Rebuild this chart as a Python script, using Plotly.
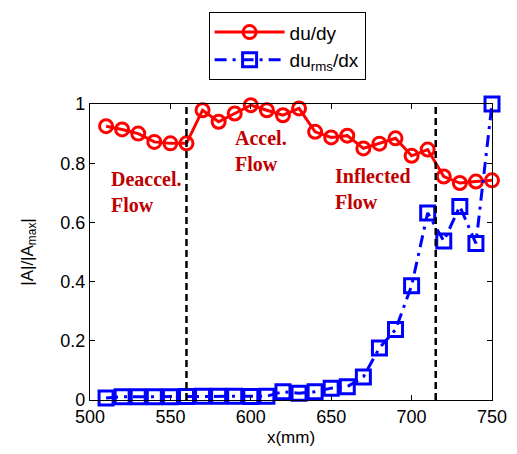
import plotly.graph_objects as go

x_vals = [510, 520, 530, 540, 550, 560, 570, 580, 590, 600, 610, 620, 630,
          640, 650, 660, 670, 680, 690, 700, 710, 720, 730, 740, 750]
dudy = [0.925, 0.914, 0.900, 0.872, 0.867, 0.867, 0.979, 0.940, 0.968, 0.996,
        0.979, 0.962, 0.985, 0.906, 0.887, 0.893, 0.850, 0.866, 0.884, 0.825,
        0.846, 0.755, 0.733, 0.738, 0.742]
durms_dx = [0.007, 0.011, 0.011, 0.011, 0.011, 0.012, 0.013, 0.013, 0.013, 0.012,
            0.013, 0.028, 0.023, 0.028, 0.040, 0.045, 0.078, 0.176, 0.238, 0.386,
            0.632, 0.537, 0.654, 0.529, 1.0]
boundaries = [560, 715]
region_labels = ["<b>Deaccel.</b><br><b>Flow</b>", "<b>Accel.</b><br><b>Flow</b>",
                 "<b>Inflected</b><br><b>Flow</b>"]
region_label_x = [512, 589, 651]
region_label_y = [0.79, 0.93, 0.80]

fig = go.Figure()
fig.add_trace(go.Scatter(
    x=x_vals, y=dudy, mode="lines+markers", name="du/dy",
    line=dict(color="#ff0000", width=3),
    marker=dict(symbol="circle-open", size=13, color="#ff0000", line=dict(width=3)),
    cliponaxis=False))
fig.add_trace(go.Scatter(
    x=x_vals, y=durms_dx, mode="lines+markers", name="du<sub>rms</sub>/dx",
    line=dict(color="#0000ff", width=3, dash="12px,6px,3px,6px"),
    marker=dict(symbol="square-open", size=14, color="#0000ff", line=dict(width=3)),
    cliponaxis=False))

for b in boundaries:
    fig.add_shape(type="line", x0=b, x1=b, y0=0, y1=1, xref="x", yref="y",
                  line=dict(color="black", width=2.5, dash="7px,4px"))

for t, xx, yy in zip(region_labels, region_label_x, region_label_y):
    fig.add_annotation(x=xx, y=yy, text=t, showarrow=False, xanchor="left",
                       yanchor="top", align="left",
                       font=dict(family="Liberation Serif", size=20, color="#c00000"))

axis_common = dict(showline=True, linecolor="black", linewidth=1.2, mirror="ticks",
                   ticks="inside", ticklen=5, tickcolor="black", showgrid=False,
                   zeroline=False,
                   tickfont=dict(family="Liberation Sans", size=18, color="black"))

fig.update_layout(
    width=517, height=454,
    margin=dict(l=90, r=25, t=102, b=54),
    plot_bgcolor="white", paper_bgcolor="white",
    font=dict(family="Liberation Sans", color="black"),
    showlegend=True,
    legend=dict(x=0.295, y=1.31, xanchor="left", yanchor="top",
                bordercolor="black", borderwidth=1, bgcolor="white",
                font=dict(family="Liberation Sans", size=19, color="black"),
                tracegroupgap=2, itemwidth=70),
    xaxis=dict(range=[500, 750], tickvals=[500, 550, 600, 650, 700, 750],
               automargin=False,
               title=dict(text="x(mm)", font=dict(size=17), standoff=5), **axis_common),
    yaxis=dict(range=[0, 1], tickvals=[0, 0.2, 0.4, 0.6, 0.8, 1],
               ticktext=["0", "0.2", "0.4", "0.6", "0.8", "1"],
               automargin=True,
               title=dict(text="|A|/|A<sub>max</sub>|", font=dict(size=17), standoff=22),
               **axis_common),
)

fig.write_html("out.html")
